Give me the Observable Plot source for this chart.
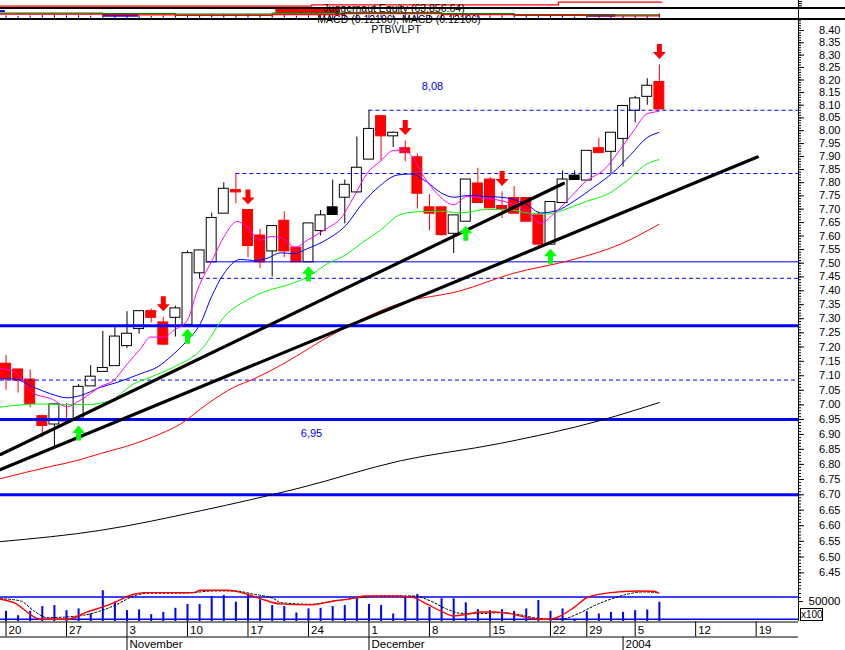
<!DOCTYPE html>
<html><head><meta charset="utf-8">
<script src="https://cdn.jsdelivr.net/npm/d3@7"></script>
<script src="https://cdn.jsdelivr.net/npm/@observablehq/plot@0.6"></script>
<style>
html,body{margin:0;padding:0;background:#fff;}
#chart{position:relative;width:845px;height:650px;overflow:hidden;font-family:"Liberation Sans",Arial,sans-serif;background:#fff;}
#chart svg{position:absolute;left:0;overflow:visible;}
.hl{position:absolute;left:0;width:845px;height:2px;background:#000;}
.ttl{position:absolute;font-size:10.5px;white-space:nowrap;transform:translate(-50%,-50%);color:#000;line-height:1;}
</style></head><body><div id="chart"></div>
<script>
// ---------- DATA ----------
const days = ["2003-10-20","2003-10-21","2003-10-22","2003-10-23","2003-10-24","2003-10-27","2003-10-28","2003-10-29","2003-10-30","2003-10-31",
"2003-11-03","2003-11-04","2003-11-05","2003-11-06","2003-11-07","2003-11-10","2003-11-11","2003-11-12","2003-11-13","2003-11-14",
"2003-11-17","2003-11-18","2003-11-19","2003-11-20","2003-11-21","2003-11-24","2003-11-25","2003-11-26","2003-11-27","2003-11-28",
"2003-12-01","2003-12-02","2003-12-03","2003-12-04","2003-12-05","2003-12-08","2003-12-09","2003-12-10","2003-12-11","2003-12-12",
"2003-12-15","2003-12-16","2003-12-17","2003-12-18","2003-12-19","2003-12-22","2003-12-23","2003-12-24","2003-12-29","2003-12-30",
"2003-12-31","2004-01-02","2004-01-05","2004-01-06","2004-01-07"];
const openP  = [7.14,7.12,7.085,6.96,6.935,6.95,6.95,7.065,7.115,7.135, 7.205,7.265,7.325,7.285,7.305,7.28,7.465,7.505,7.685,7.77,
 7.695,7.60,7.545,7.655,7.555,7.505,7.62,7.705,7.745,7.765, 7.89,8.055,7.98,7.93,7.895,7.705,7.705,7.61,7.655,7.795,
 7.81,7.71,7.74,7.74,7.675,7.57,7.725,7.825,7.81,7.93, 7.92,7.97,8.08,8.135,8.19];
const highP  = [7.17,7.12,7.12,6.96,7.00,7.005,7.07,7.135,7.255,7.27, 7.325,7.325,7.335,7.305,7.345,7.545,7.545,7.685,7.80,7.835,
 7.695,7.625,7.635,7.69,7.555,7.645,7.695,7.81,7.81,7.975, 8.08,8.055,7.995,7.96,7.91,7.755,7.705,7.675,7.81,7.855,
 7.82,7.765,7.785,7.74,7.69,7.725,7.845,7.845,7.92,7.97, 7.99,8.095,8.135,8.205,8.26];
const lowP   = [7.05,7.04,6.99,6.89,6.86,6.945,6.945,7.065,7.115,7.135, 7.195,7.245,7.285,7.205,7.235,7.28,7.445,7.505,7.685,7.72,
 7.52,7.48,7.45,7.52,7.505,7.505,7.60,7.68,7.645,7.76, 7.89,7.88,7.935,7.88,7.70,7.62,7.60,7.535,7.655,7.725,
 7.705,7.665,7.685,7.655,7.56,7.57,7.725,7.81,7.81,7.915, 7.835,7.86,8.03,8.10,8.085];
const closeP = [7.09,7.085,7.005,6.93,7.00,6.945,7.06,7.095,7.125,7.235, 7.245,7.325,7.305,7.21,7.335,7.535,7.545,7.665,7.775,7.765,
 7.565,7.505,7.635,7.545,7.505,7.645,7.675,7.68,7.79,7.855, 8.005,7.98,7.99,7.915,7.76,7.685,7.605,7.675,7.81,7.725,
 7.705,7.70,7.685,7.655,7.57,7.725,7.81,7.812,7.92,7.915, 7.99,8.095,8.125,8.175,8.085];
// volume in hundreds of shares
const volume = [25400,14500,25400,37300,39800,27200,31500,18800,77000,48200,
 27200,28900,17000,22800,33000,42400,42400,62700,65200,48200,
 67800,54300,39800,37300,21300,31500,33000,37300,39800,56800,
 42400,39800,18800,62700,67800,35500,56800,56800,46700,29700,
 27200,29700,25400,31500,52500,25400,31500,3000,24600,18800,
 22800,22800,27200,28900,48200];

// moving averages: [trading-day position, price]
const maMagenta = [[-0.45,7.124],[0.51,7.118],[2.27,7.039],[3.68,7.022],[5.06,6.994],[5.88,7.009],[6.98,7.039],[7.81,7.063],[8.88,7.083],[10.02,7.141],[11.12,7.194],[11.94,7.235],[13.04,7.235],[13.87,7.259],[14.98,7.294],[15.8,7.40],[17.17,7.522],[18.0,7.596],[19.11,7.654],[19.93,7.633],[21.03,7.584],[21.86,7.598],[22.69,7.594],[23.93,7.559],[24.89,7.584],[26.55,7.629],[27.64,7.664],[28.74,7.746],[29.85,7.836],[30.95,7.882],[32.05,7.924],[32.88,7.924],[33.57,7.90],[34.53,7.823],[35.64,7.758],[37.01,7.717],[38.12,7.748],[39.21,7.742],[40.6,7.735],[41.97,7.717],[43.35,7.682],[44.12,7.647],[45.27,7.682],[46.65,7.745],[48.0,7.808],[49.37,7.847],[50.79,7.928],[51.88,8.0],[52.99,8.066],[53.95,8.075]];
const maBlue = [[-0.45,7.089],[0.64,7.089],[2.3,7.06],[3.68,7.038],[5.06,7.024],[6.16,7.032],[7.81,7.06],[9.19,7.077],[11.12,7.107],[12.5,7.13],[13.87,7.176],[14.98,7.223],[16.07,7.283],[17.0,7.38],[17.95,7.458],[19.38,7.514],[20.48,7.51],[21.59,7.518],[22.69,7.538],[23.79,7.535],[24.89,7.553],[26.55,7.588],[28.2,7.645],[29.3,7.713],[30.95,7.79],[32.33,7.829],[33.43,7.833],[34.81,7.802],[35.91,7.763],[37.01,7.745],[38.12,7.751],[39.77,7.748],[41.42,7.742],[43.07,7.717],[44.17,7.686],[45.55,7.695],[46.93,7.73],[48.58,7.783],[50.23,7.841],[51.61,7.906],[52.99,7.973],[53.95,7.993]];
const maGreen = [[-0.45,6.992],[1.2,7.0],[2.85,7.003],[5.06,7.001],[6.71,7.001],[8.64,7.015],[10.56,7.072],[11.94,7.095],[13.87,7.13],[16.07,7.188],[18.28,7.318],[19.93,7.367],[21.59,7.40],[23.51,7.424],[24.89,7.449],[26.55,7.498],[28.2,7.534],[29.3,7.571],[30.95,7.622],[32.6,7.68],[33.98,7.69],[35.91,7.692],[37.56,7.686],[39.77,7.699],[41.42,7.699],[43.07,7.686],[44.72,7.682],[46.38,7.702],[48.0,7.73],[49.69,7.756],[51.34,7.808],[52.99,7.872],[53.95,7.888]];
const maRed = [[-0.45,6.753],[3.68,6.793],[5.88,6.813],[7.81,6.836],[10.56,6.868],[12.77,6.902],[14.42,6.935],[16.63,7.003],[18.83,7.06],[20.48,7.089],[22.69,7.136],[26.82,7.24],[32.6,7.355],[37.56,7.40],[41.84,7.462],[46.93,7.514],[50.79,7.57],[53.95,7.643]];
const maBlack = [[-0.45,6.549],[7.81,6.585],[16.07,6.648],[24.34,6.723],[32.6,6.812],[40.87,6.87],[49.13,6.947],[54.0,7.008]];

// trend lines: [position, price] end points
const trendA = [[-0.455,6.833],[46.07,7.797]];
const trendB = [[-0.455,6.783],[62.1,7.898]];

// horizontal levels
const dashedLevels = [8.08, 7.835, 7.445, 7.085];
const dashedFrom   = [30, 19, 16, -0.455];
const thinLevels   = [7.505];
const thinFrom     = [16.6];
const thickLevels  = [7.275, 6.95, 6.70];

// annotations
const noteText  = ["8,08", "6,95"];
const notePos   = [35.25, 25.25];
const noteValue = [8.08, 6.95];
const noteShift = [-24, 14];

// signal arrows (trading-day index)
const sellIdx = [13, 20, 33, 41, 54];
const buyIdx  = [6, 15, 25, 38, 45];

// oscillator (lower panel) [position, value 0..100]
const oscFast = [[-0.45,73.8],[0.64,64.7],[2.85,20],[5.06,20],[6.71,39.6],[8.64,60.4],[10.56,87.3],[11.39,91.6],[15.52,91.6],[16.07,98],[18.28,98],[19.93,87.3],[21.03,75.4],[22.69,61.2],[25.17,58.5],[27.09,69.2],[29.02,78.1],[29.57,82.7],[32.33,82.7],[33.7,78.1],[34.81,60.4],[35.91,42.3],[37.01,28.9],[38.12,33.5],[39.21,39.6],[40.31,39.6],[41.69,35.1],[43.07,24.3],[44.17,20],[45.0,20],[45.83,28.9],[46.93,51.2],[48.03,78.1],[49.96,91.6],[52.17,96.1],[53.54,95.3],[53.95,90]];
const oscSlow = [[-0.45,75.4],[1.2,69.2],[2.3,42.3],[3.4,24.3],[5.06,26.2],[6.43,30.8],[7.81,42.3],[9.19,60.4],[10.56,82.7],[11.94,90],[14.69,90],[17.17,96.1],[18.83,96.1],[20.48,87.3],[22.13,75.4],[22.69,64.7],[25.17,60.4],[27.09,69.2],[29.3,78.1],[30.95,82.7],[33.7,82.7],[35.08,69.2],[36.46,46.9],[37.56,36.1],[39.21,35.1],[40.87,37.8],[42.52,31.6],[43.9,22.7],[45.0,20],[45.83,20],[47.48,37.8],[48.58,55.8],[49.96,73.8],[51.34,87.3],[52.71,93.4],[53.82,91.6]];
const oscLevels = [80, 20];

// axes
const priceTickLabels = ["8.40","8.35","8.30","8.25","8.20","8.15","8.10","8.05","8.00","7.95","7.90","7.85","7.80","7.75","7.70","7.65","7.60","7.55","7.50","7.45","7.40","7.35","7.30","7.25","7.20","7.15","7.10","7.05","7.00","6.95","6.90","6.85","6.80","6.75","6.70","6.65","6.60","6.55","6.50","6.45"];
const volTickLabels = ["50000"];
const dayTickIdx    = [0,5,10,15,20,25,30,35,40,45,48,52,57,62];
const dayTickLabels = ["20","27","3","10","17","24","1","8","15","22","29","5","12","19"];
const monthTickIdx  = [10,30,51];
const monthLabels   = ["November","December","2004"];

// header strip (squeezed equity / indicator pane), values 0..100 of the strip
const hdrEquity = [[-0.45,69],[25.25,69],[25.25,76],[45.66,76],[45.66,90.6],[54.2,90.6]];
const hdrGreen  = [[-0.45,30],[8,27],[14,24],[22,30],[28,33],[36,27],[42,22],[48,20],[54,26]];
const hdrRedLn  = [[-0.45,24],[8,20],[14,17],[22,22],[28,27],[36,22],[42,17],[48,15],[54,22]];
const hdrBlockStart = [-0.45, 8.06, 22.3, 48.1];
const hdrBlockEnd   = [-0.05, 10.95, 27.6, 50.4];
const hdrBlockLow   = [33, 7.2, 26.1, 7.2];
const hdrBlockHigh  = [44, 26.1, 53.9, 22.2];
const hdrBlockColor = ["#0000ff", "#0000ff", "#ff0000", "#0000ff"];

// ---------- SCALES / LAYOUT ----------
const W = 845, MR = 47, PLOT_W = W - MR;
const X_DOMAIN = [-0.455, 65.5];
const PX = PLOT_W / (X_DOMAIN[1] - X_DOMAIN[0]);     // pixels per trading day
const FONT = "'Liberation Sans', Arial, sans-serif";
const baseStyle = {background: "none", overflow: "visible", fontFamily: FONT, fontSize: "12px"};
const chart = document.getElementById("chart");
function place(svg, top){ svg.style.top = top + "px"; chart.appendChild(svg); }

const candles = days.map((d, i) => {
  const up = closeP[i] >= openP[i];
  const kind = up ? "up" : (i > 0 && closeP[i] >= closeP[i-1] ? "black" : "red");
  return {i, date: d, open: openP[i], high: highP[i], low: lowP[i], close: closeP[i], kind};
});
const bodyFill = {up: "white", red: "#ff0000", black: "#000000"};
const lineCol  = {up: "#000000", red: "#ff0000", black: "#000000"};
const pts = arr => arr.map(([x, y]) => ({x, y}));

const downArrow = {draw(c){ c.moveTo(-2.5,-15); c.lineTo(2.5,-15); c.lineTo(2.5,-7); c.lineTo(6.5,-7); c.lineTo(0,0); c.lineTo(-6.5,-7); c.lineTo(-2.5,-7); c.closePath(); }};
const upArrow   = {draw(c){ c.moveTo(-2.5,15); c.lineTo(2.5,15); c.lineTo(2.5,7.5); c.lineTo(6.5,7.5); c.lineTo(0,0); c.lineTo(-6.5,7.5); c.lineTo(-2.5,7.5); c.closePath(); }};

const majorTicks = priceTickLabels.map(Number);
const minorTicks = d3.range(640, 845).map(v => v / 100);
const tickRule = (values, len) => Plot.ruleY(values, {y: d => d, x1: X_DOMAIN[1], x2: X_DOMAIN[1] + len / PX, stroke: "#000"});

// ---------- MAIN PRICE PANEL ----------
const main = Plot.plot({
  width: W, height: 572, marginTop: 0, marginBottom: 0, marginLeft: 0, marginRight: MR,
  style: baseStyle,
  x: {domain: X_DOMAIN, axis: null},
  y: {type: "log", domain: [6.3949, 8.4493], axis: null},
  marks: [
    tickRule(minorTicks, 3),
    tickRule(majorTicks, 6),
    Plot.text(majorTicks, {y: d => d, x: X_DOMAIN[1], dx: 42, text: (d, k) => priceTickLabels[k], textAnchor: "end", fontSize: 11, fill: "#000"}),
    // candles
    Plot.ruleX(candles, {x: "i", y1: "low", y2: "high", stroke: d => lineCol[d.kind], strokeWidth: 1}),
    Plot.rect(candles, {x1: d => d.i - 0.41, x2: d => d.i + 0.41, y1: "open", y2: "close", insetTop: -0.5, insetBottom: -0.5,
      fill: d => bodyFill[d.kind], stroke: d => lineCol[d.kind], strokeWidth: 1}),
    // levels
    Plot.ruleY(thickLevels, {y: d => d, x1: X_DOMAIN[0], x2: X_DOMAIN[1], stroke: "#0000ff", strokeWidth: 3}),
    Plot.ruleY(thinLevels.map((v, k) => ({v, from: thinFrom[k]})), {y: "v", x1: "from", x2: X_DOMAIN[1], stroke: "#0000ff", strokeWidth: 1}),
    Plot.ruleY(dashedLevels.map((v, k) => ({v, from: dashedFrom[k]})), {y: "v", x1: "from", x2: X_DOMAIN[1], stroke: "#0000ff", strokeWidth: 1, strokeDasharray: "4,3"}),
    // moving averages
    Plot.line(pts(maBlack),   {x: "x", y: "y", stroke: "#000000", strokeWidth: 1, curve: "monotone-x", clip: true}),
    Plot.line(pts(maRed),     {x: "x", y: "y", stroke: "#ff0000", strokeWidth: 1, curve: "monotone-x", clip: true}),
    Plot.line(pts(maGreen),   {x: "x", y: "y", stroke: "#00ff00", strokeWidth: 1, curve: "monotone-x", clip: true}),
    Plot.line(pts(maBlue),    {x: "x", y: "y", stroke: "#0000ff", strokeWidth: 1, curve: "monotone-x", clip: true}),
    Plot.line(pts(maMagenta), {x: "x", y: "y", stroke: "#ff00ff", strokeWidth: 1, curve: "monotone-x", clip: true}),
    // trend lines
    Plot.line(pts(trendA), {x: "x", y: "y", stroke: "#000", strokeWidth: 3.2, clip: true}),
    Plot.line(pts(trendB), {x: "x", y: "y", stroke: "#000", strokeWidth: 3.2, clip: true}),
    // arrows
    Plot.dot(sellIdx.map(i => candles[i]), {x: "i", y: "high", symbol: downArrow, fill: "#ff0000", stroke: "none", dy: -6}),
    Plot.dot(buyIdx.map(i => candles[i]),  {x: "i", y: "low",  symbol: upArrow,   fill: "#00ff00", stroke: "none", dy: 4.5}),
    // notes
    Plot.text([0], {x: notePos[0], y: noteValue[0], text: [noteText[0]], dy: noteShift[0], fill: "#0000ff", fontSize: 11}),
    Plot.text([0], {x: notePos[1], y: noteValue[1], text: [noteText[1]], dy: noteShift[1], fill: "#0000ff", fontSize: 11}),
    Plot.ruleX([X_DOMAIN[1]], {stroke: "#000"})
  ]
});
place(main, 18);

// ---------- VOLUME ----------
const volData = volume.map((v, i) => ({i, v}));
const volTicks = volTickLabels.map(Number);
const vol = Plot.plot({
  width: W, height: 31, marginTop: 0, marginBottom: 0, marginLeft: 0, marginRight: MR,
  style: baseStyle,
  x: {domain: X_DOMAIN, axis: null},
  y: {domain: [0, 77500], axis: null},
  marks: [
    Plot.ruleX(volData, {x: "i", y1: 0, y2: "v", stroke: "#0000ff", strokeWidth: 2}),
    tickRule([60000, 70000], 3),
    tickRule(volTicks, 5),
    Plot.text(volTicks, {y: d => d, x: X_DOMAIN[1], dx: 42, text: (d, k) => volTickLabels[k], textAnchor: "end", fontSize: 11.5, fill: "#000"}),
    Plot.ruleX([X_DOMAIN[1]], {stroke: "#000"})
  ]
});
place(vol, 590);

// ---------- OSCILLATOR ----------
const osc = Plot.plot({
  width: W, height: 37.16, marginTop: 0, marginBottom: 0, marginLeft: 0, marginRight: MR,
  style: baseStyle,
  x: {domain: X_DOMAIN, axis: null},
  y: {domain: [0, 100], axis: null},
  marks: [
    Plot.ruleY(oscLevels, {y: d => d, x1: X_DOMAIN[0], x2: X_DOMAIN[1], stroke: "#0000ff", strokeWidth: 1.5}),
    Plot.line(pts(oscSlow), {x: "x", y: "y", stroke: "#000", strokeWidth: 1, strokeDasharray: "2,2", curve: "monotone-x", clip: true}),
    Plot.line(pts(oscFast), {x: "x", y: "y", stroke: "#ff0000", strokeWidth: 1.4, curve: "monotone-x", clip: true})
  ]
});
place(osc, 588.57);

// ---------- X AXIS ----------
const dayTicks = dayTickIdx.map((i, k) => ({i, label: dayTickLabels[k]}));
const monthTicks = monthTickIdx.map((i, k) => ({i, label: monthLabels[k]}));
const xax = Plot.plot({
  width: W, height: 29, marginTop: 0, marginBottom: 0, marginLeft: 0, marginRight: MR,
  style: baseStyle,
  x: {domain: X_DOMAIN, axis: null},
  y: {domain: [0, 29], range: [0, 29], axis: null},
  marks: [
    Plot.ruleY([0.5, 15.5], {y: d => d, x1: X_DOMAIN[0], x2: X_DOMAIN[1], stroke: "#000"}),
    Plot.ruleX(dayTicks, {x: "i", y1: 0.5, y2: 15.5, stroke: "#000"}),
    Plot.text(dayTicks, {x: "i", y: 9, text: "label", textAnchor: "start", dx: 2.5, fontSize: 11.5, fill: "#000"}),
    Plot.ruleX(monthTicks, {x: "i", y1: 15.5, y2: 29, stroke: "#000"}),
    Plot.text(monthTicks, {x: "i", y: 22.5, text: "label", textAnchor: "start", dx: 2.5, fontSize: 11.5, fill: "#000"})
  ]
});
place(xax, 621);

// ---------- HEADER STRIP ----------
const hdrBlocks = hdrBlockStart.map((s, k) => ({s, e: hdrBlockEnd[k], lo: hdrBlockLow[k], hi: hdrBlockHigh[k], c: hdrBlockColor[k]}));
const hdr = Plot.plot({
  width: W, height: 18, marginTop: 0, marginBottom: 0, marginLeft: 0, marginRight: MR,
  style: baseStyle,
  x: {domain: X_DOMAIN, axis: null},
  y: {domain: [0, 100], axis: null},
  marks: [
    Plot.rect(hdrBlocks, {x1: "s", x2: "e", y1: "lo", y2: "hi", fill: "c"}),
    Plot.ruleX(volData, {x: "i", y1: 0, y2: d => 8 + d.v / 4000, stroke: "#0000ff", strokeWidth: 1}),
    Plot.line(pts(hdrGreen), {x: "x", y: "y", stroke: "#008000", strokeWidth: 1.3, curve: "step-after"}),
    Plot.line(pts(hdrRedLn), {x: "x", y: "y", stroke: "#ff0000", strokeWidth: 1.3, curve: "step-after"}),
    Plot.line(pts(hdrEquity), {x: "x", y: "y", stroke: "#ff0000", strokeWidth: 1.3}),
    tickRule([70, 82, 94], 4),
    Plot.ruleX([X_DOMAIN[1]], {stroke: "#000"})
  ]
});
place(hdr, 0);

// frame lines and titles
[6.5, 17.5].forEach(t => { const d = document.createElement("div"); d.className = "hl"; d.style.top = t + "px"; chart.appendChild(d); });
const titleText = ["Juggernaut Equity (63,856.64)", "MACD (0.12106), MACD (0.12106)", "PTB\\VLPT"];
const titleX = [394, 399, 396], titleY = [8, 18.6, 29];
titleText.forEach((t, k) => { const d = document.createElement("div"); d.className = "ttl"; d.textContent = t; d.style.left = titleX[k] + "px"; d.style.top = titleY[k] + "px"; chart.appendChild(d); });
const box = document.createElement("div");
box.textContent = "x100";
Object.assign(box.style, {position: "absolute", left: "800px", top: "608px", width: "21px", height: "11px", border: "1px solid #000", fontSize: "10px", lineHeight: "11px", textAlign: "center", background: "#fff"});
chart.appendChild(box);
</script></body></html>
